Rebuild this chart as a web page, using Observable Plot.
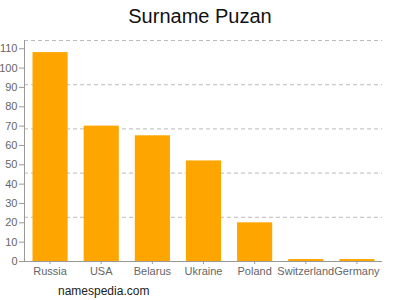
<!DOCTYPE html>
<html>
<head>
<meta charset="utf-8">
<script src="https://cdn.jsdelivr.net/npm/d3@7"></script>
<script src="https://cdn.jsdelivr.net/npm/@observablehq/plot@0.6"></script>
<style>
  body { margin: 0; background: #fff; font-family: "Liberation Sans", Arial, sans-serif; }
  #wrap { width: 400px; height: 300px; position: relative; overflow: hidden; }
  #title { height: 30px; line-height: 32px; text-align: center; font-size: 20px; color: #111; }
  #caption { position: absolute; left: 58px; top: 284px; font-size: 12px; color: #222; }
  svg { display: block; }
</style>
</head>
<body>
<div id="wrap">
  <div id="title">Surname Puzan</div>
  <div id="chart"></div>
  <div id="caption">namespedia.com</div>
</div>
<script>
const countries = ["Russia", "USA", "Belarus", "Ukraine", "Poland", "Switzerland", "Germany"];
const counts = [108, 70, 65, 52, 20, 1, 1];
const yTicks = [0, 10, 20, 30, 40, 50, 60, 70, 80, 90, 100, 110];

const data = countries.map((c, i) => ({country: c, count: counts[i]}));
const yMax = d3.max(counts) * 1.058;
const gridLines = d3.range(1, 6).map(i => yMax * i / 5);

const chart = Plot.plot({
  width: 400,
  height: 250,
  marginTop: 10,
  marginBottom: 19,
  marginLeft: 24,
  marginRight: 18,
  style: { fontFamily: "Liberation Sans, Arial, sans-serif", fontSize: "11px", color: "#666", background: "#fff" },
  x: { domain: countries, padding: 0, round: false, label: null },
  y: { domain: [0, yMax], label: null },
  marks: [
    Plot.ruleY(gridLines, { stroke: "#bbb", strokeDasharray: "4,3" }),
    Plot.barY(data, { x: "country", y: "count", fill: "#FFA500", insetLeft: 8.5, insetRight: 7.5 }),
    Plot.ruleY([0], { stroke: "#999" }),
    Plot.frame({ anchor: "left", stroke: "#999" }),
    Plot.axisY({ ticks: yTicks, tickSize: 5, tickPadding: 2, stroke: "#999", fill: "#666", fontSize: 11, label: null }),
    Plot.axisX({ tickSize: 3, tickPadding: 3, stroke: "#999", fill: "#666", fontSize: 11, label: null })
  ]
});
document.getElementById("chart").appendChild(chart);
</script>
</body>
</html>
